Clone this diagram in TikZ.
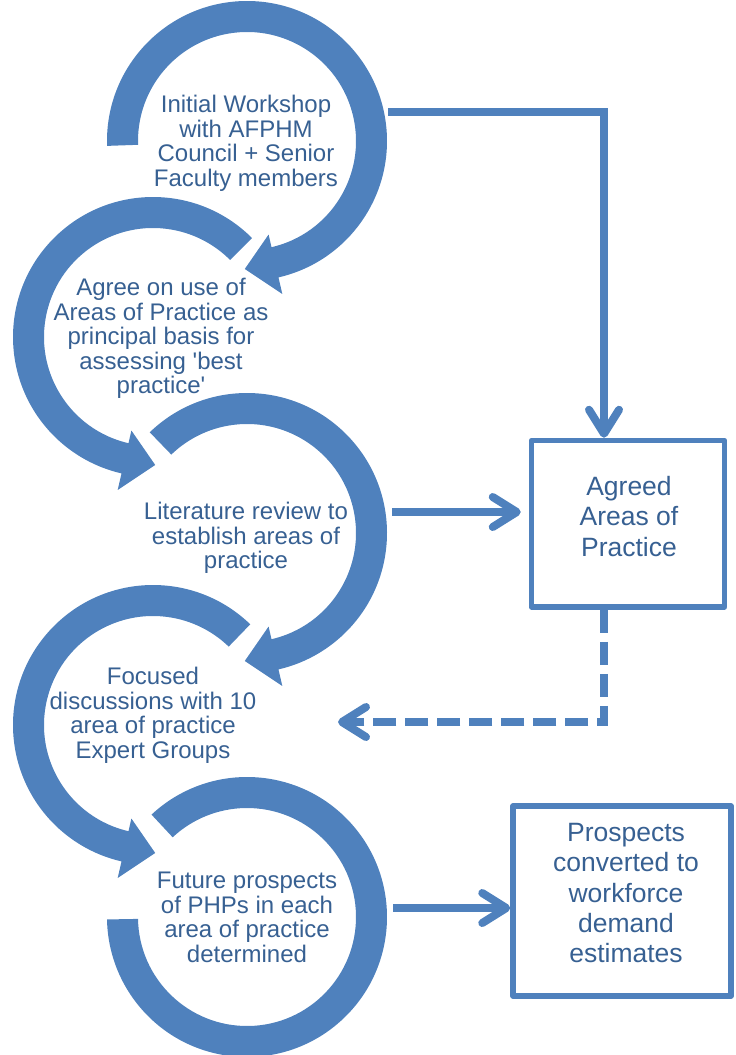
\documentclass[tikz,border=0pt]{standalone}
\usepackage{fontspec}
\newfontfamily\dfont{Liberation Sans}
\usetikzlibrary{arrows.meta}
\definecolor{ringblue}{HTML}{4F81BD}
\definecolor{txtblue}{HTML}{376092}
% #1 centre, #2 start angle, #3 angle of arrowhead base, #4 angle of tip
\newcommand{\ringarrow}[4]{\fill[ringblue, shift={#1}] (#2:140) arc[start angle=#2, end angle=#3, radius=140] -- (#3:157) -- (#4:128) -- (#3:96) -- (#3:109) arc[start angle=#3, end angle=#2, radius=109] -- cycle;}
\tikzset{
  ringtext/.style={font=\dfont\fontsize{24}{24.5}\selectfont, text=txtblue, align=center, inner sep=0pt, anchor=north},
  boxtext/.style={font=\dfont\fontsize{26.5}{30.3}\selectfont, text=txtblue, align=center, inner sep=0pt, anchor=north},
  boxnode/.style={draw=ringblue, line width=5.5pt, line join=round, inner sep=0pt},
  flow/.style={draw=ringblue, line width=8pt, -{Straight Barb[length=24pt,width=30pt,round]}},
  dflow/.style={flow, dash pattern=on 23pt off 9pt}
}
\begin{document}
\begin{tikzpicture}[x=1pt,y=1pt]
\useasboundingbox (0,0) rectangle (736,-1055);
\clip (0,0) rectangle (736,-1055);
% circular arrows
\ringarrow{(247,-141)}{182}{-77}{-91}
\ringarrow{(153,-337)}{45}{257}{271}
\ringarrow{(247,-533)}{134}{-77}{-91}
\ringarrow{(153,-725)}{46}{257}{271}
\fill[ringblue, shift={(247,-917)}] (133:140) arc[start angle=133, end angle=-179, radius=140] -- (-179:109) arc[start angle=-179, end angle=133, radius=109] -- cycle;
% texts in the circles
\node[ringtext] (r1) at (246,-95) {Initial Workshop\\with AFPHM\\Council + Senior\\Faculty members};
\node[ringtext] (r2) at (161,-278) {Agree on use of\\Areas of Practice as\\principal basis for\\assessing 'best\\practice'};
\node[ringtext] (r3) at (246,-502) {Literature review to\\establish areas of\\practice};
\node[ringtext] (r4) at (153,-667) {Focused\\discussions with 10\\area of practice\\Expert Groups};
\node[ringtext] (r5) at (247,-872) {Future prospects\\of PHPs in each\\area of practice\\determined};
% boxes
\node[boxnode, minimum width=193pt, minimum height=166.5pt] (b1) at (628,-523.75) {};
\node[boxtext] (t1) at (629,-476) {Agreed\\Areas of\\Practice};
\node[boxnode, minimum width=218pt, minimum height=190pt] (b2) at (622,-901) {};
\node[boxtext] (t2) at (626,-823) {Prospects\\converted to\\workforce\\demand\\estimates};
% connector coordinates
\coordinate (c1) at (388,-112);
\coordinate (k1) at (604,-112);
\coordinate (c3) at (392,-512);
\coordinate (c5) at (393,-908);
\coordinate (d1) at (338,-722);
% connectors
\draw[flow] (c1) -- (k1) -- (k1 |- b1.north);
\draw[flow, shorten >=8pt] (c3) -- (c3 -| b1.west);
\draw[flow] (c5) -- (c5 -| b2.west);
\draw[dflow] (k1 |- b1.south) |- (d1);
\end{tikzpicture}
\end{document}
